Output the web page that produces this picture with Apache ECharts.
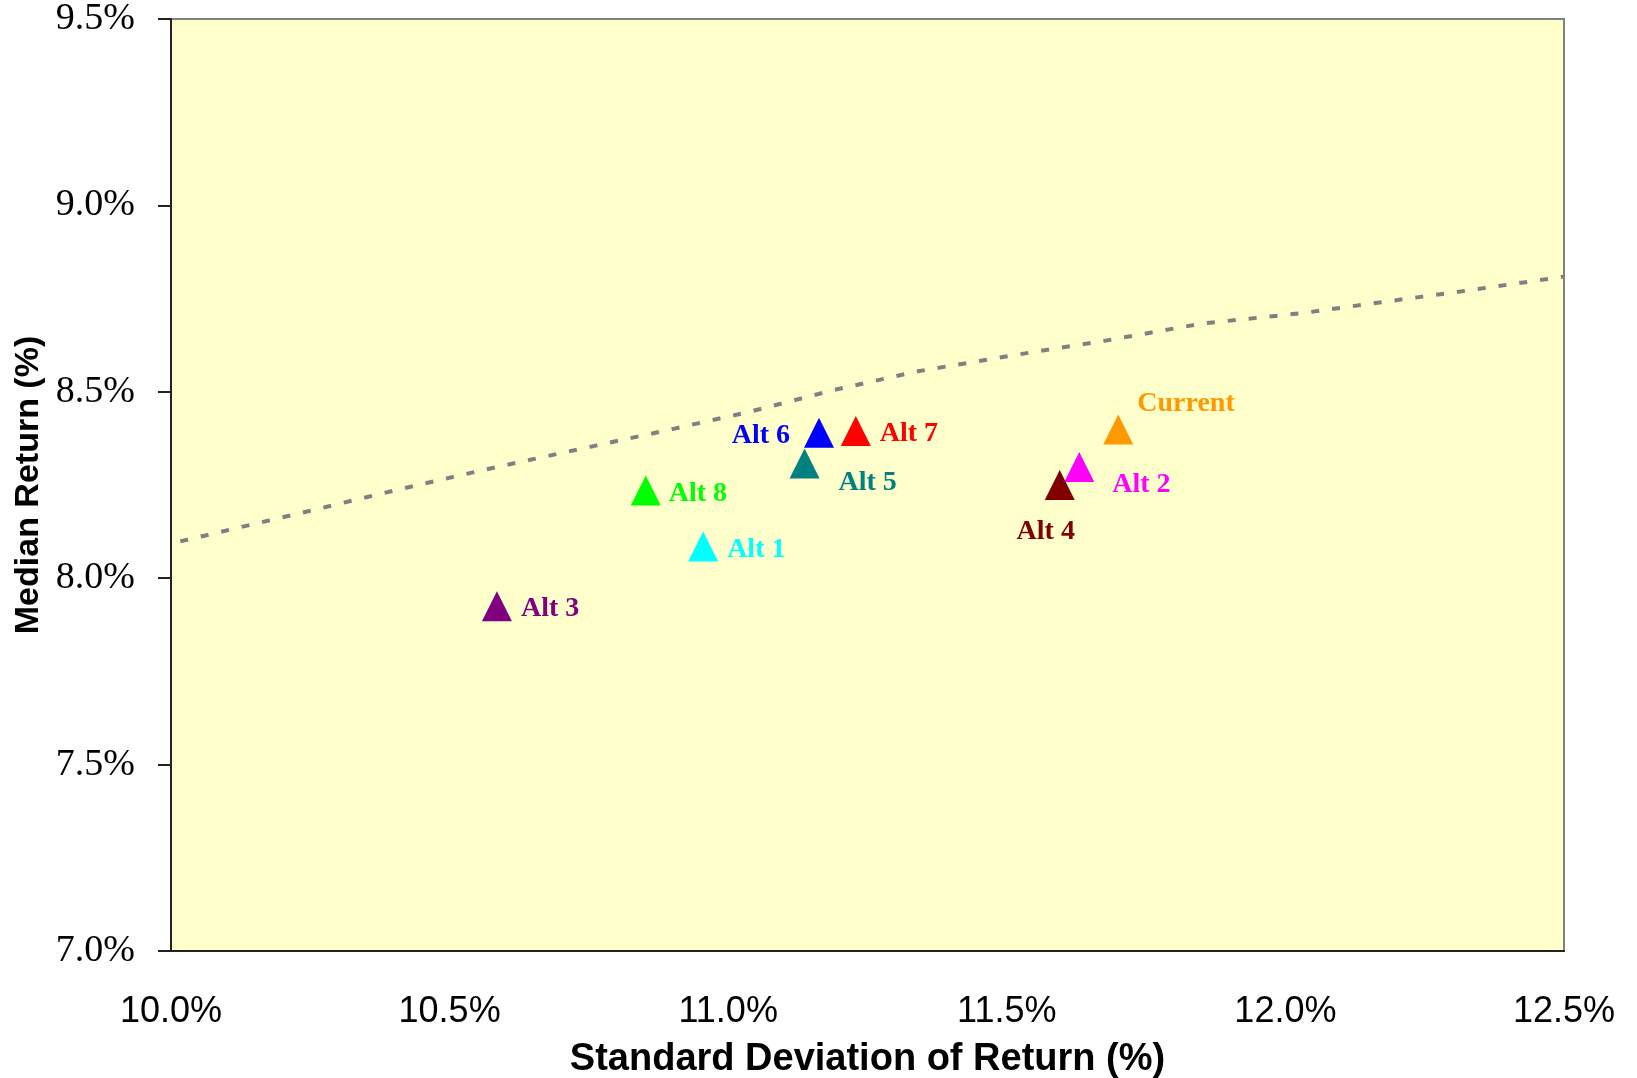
<!DOCTYPE html>
<html>
<head>
<meta charset="utf-8">
<script src="https://cdn.jsdelivr.net/npm/echarts@6/dist/echarts.min.js"></script>
<style>
html,body{margin:0;padding:0;background:#fff;}
#chart{width:1637px;height:1078px;}
</style>
</head>
<body>
<div id="chart"></div>
<script>
// ---- data ----
var names        = ['Current','Alt 1','Alt 2','Alt 3','Alt 4','Alt 5','Alt 6','Alt 7','Alt 8'];
var stdDev       = [11.70, 10.955, 11.63, 10.585, 11.595, 11.137, 11.163, 11.229, 10.852];
var medianReturn = [8.399, 8.085, 8.298, 7.925, 8.250, 8.308, 8.390, 8.395, 8.235];

var frontierX = [9.98, 10.06, 10.25, 10.40, 10.56, 10.76, 10.90, 11.04, 11.19, 11.34, 11.52, 11.68, 11.85, 12.03, 12.18, 12.30, 12.50];
var frontierY = [8.086, 8.114, 8.181, 8.235, 8.290, 8.355, 8.400, 8.447, 8.505, 8.555, 8.600, 8.638, 8.683, 8.711, 8.742, 8.766, 8.809];

var xTicks = [10.0, 10.5, 11.0, 11.5, 12.0, 12.5];
var yTicks = [7.0, 7.5, 8.0, 8.5, 9.0, 9.5];

// ---- styles ----
var colors = {
  'Current':'#FF9900','Alt 1':'#00FFFF','Alt 2':'#FF00FF','Alt 3':'#800080','Alt 4':'#800000',
  'Alt 5':'#008080','Alt 6':'#0000FF','Alt 7':'#FF0000','Alt 8':'#00FF00'
};
// label placement relative to the 30x30 symbol box
var labelPlace = {
  'Current':{pos:[34,-11],align:'left'},
  'Alt 1':{pos:[39,18],align:'left'},
  'Alt 2':{pos:[48,33],align:'left'},
  'Alt 3':{pos:[39,18],align:'left'},
  'Alt 4':{pos:[1,62],align:'center'},
  'Alt 5':{pos:[49,34],align:'left'},
  'Alt 6':{pos:[-14,18],align:'right'},
  'Alt 7':{pos:[39,18],align:'left'},
  'Alt 8':{pos:[38,18],align:'left'}
};

var pointData = names.map(function(n,i){
  var c = colors[n], lp = labelPlace[n];
  return {
    name:n, value:[stdDev[i], medianReturn[i]],
    itemStyle:{color:c, opacity:1},
    label:{show:true, formatter:n, position:lp.pos, align:lp.align, verticalAlign:'middle',
      color:c, fontFamily:'Liberation Serif', fontWeight:'bold', fontSize:28}
  };
});
var frontierData = frontierX.map(function(x,i){ return [x, frontierY[i]]; });

var chart = echarts.init(document.getElementById('chart'), null, {renderer:'canvas'});
chart.setOption({
  animation:false,
  backgroundColor:'#ffffff',
  grid:{left:171, top:19, right:73, bottom:127, show:true, backgroundColor:'#FFFFCC',
        borderColor:'#808080', borderWidth:2, containLabel:false, outerBoundsMode:'none'},
  xAxis:{
    type:'value', min:xTicks[0], max:xTicks[xTicks.length-1], interval:0.5,
    name:'Standard Deviation of Return (%)', nameLocation:'middle', nameGap:90, nameMoveOverlap:false,
    nameTextStyle:{fontFamily:'Liberation Sans', fontWeight:'bold', fontSize:38, color:'#000'},
    axisLine:{show:true, onZero:false, lineStyle:{color:'#222', width:2}},
    axisTick:{show:false},
    axisLabel:{margin:43, fontFamily:'Liberation Sans', fontSize:36, color:'#000',
      formatter:function(v){return v.toFixed(1)+'%';}},
    splitLine:{show:false}
  },
  yAxis:{
    type:'value', min:yTicks[0], max:yTicks[yTicks.length-1], interval:0.5,
    name:'Median Return (%)', nameLocation:'middle', nameGap:125, nameRotate:90, nameMoveOverlap:false,
    nameTextStyle:{fontFamily:'Liberation Sans', fontWeight:'bold', fontSize:34, color:'#000'},
    axisLine:{show:true, onZero:false, lineStyle:{color:'#222', width:2}},
    axisTick:{show:true, inside:false, length:13, lineStyle:{color:'#222', width:2}},
    axisLabel:{margin:36, fontFamily:'Liberation Serif', fontSize:38, color:'#000', padding:[8,0,0,0],
      formatter:function(v){return v.toFixed(1)+'%';}},
    splitLine:{show:false}
  },
  series:[
    {
      type:'line', data:frontierData, symbol:'none', clip:false, z:2,
      lineStyle:{color:'#808080', width:4, type:[8,13]}
    },
    {
      type:'scatter', data:pointData, symbol:'triangle', symbolSize:[30,30], z:3
    }
  ]
});
</script>
</body>
</html>
